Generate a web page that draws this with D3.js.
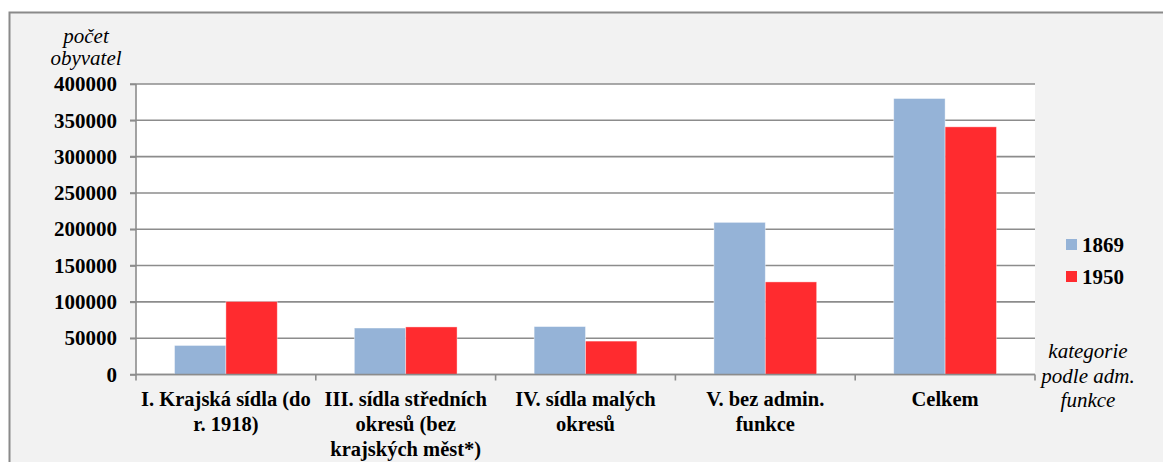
<!DOCTYPE html>
<html>
<head>
<meta charset="utf-8">
<script src="https://cdn.jsdelivr.net/npm/d3@7"></script>
<style>
  body { margin: 0; background: #fff; }
  svg { display: block; }
  svg text { font-family: 'Liberation Serif', 'Times New Roman', Tinos, 'DejaVu Serif', serif; }
</style>
</head>
<body>
<div id="chart"></div>
<script>
var categories = [
  ['I. Krajská sídla (do', 'r. 1918)'],
  ['III. sídla středních', 'okresů (bez', 'krajských měst*)'],
  ['IV. sídla malých', 'okresů'],
  ['V. bez admin.', 'funkce'],
  ['Celkem']
];
var seriesNames = ['1869', '1950'];
var values1869 = [40000, 64000, 66000, 209500, 380000];
var values1950 = [100500, 65500, 46000, 127500, 341000];
var yTicks = [0, 50000, 100000, 150000, 200000, 250000, 300000, 350000, 400000];

(function(){
  'use strict';

  var width = 1163, height = 462;
  var colors = ['#95b3d7', '#ff2b2f'];

  var svg = d3.select('#chart').append('svg')
    .attr('width', width).attr('height', height);

  // chart area background + frame
  svg.append('rect')
    .attr('x', 9.5).attr('y', 12.5)
    .attr('width', width + 20).attr('height', height)
    .attr('fill', '#f2f2f2')
    .attr('stroke', '#8a8a8a').attr('stroke-width', 2);

  var pLeft = 136, pRight = 1035, pTop = 84, pBottom = 374.5;

  var x0 = d3.scaleBand()
    .domain(d3.range(categories.length))
    .range([pLeft, pRight]);

  var x1 = d3.scaleBand()
    .domain(seriesNames)
    .range([0, x0.bandwidth()])
    .paddingInner(0)
    .paddingOuter(0.75);

  var y = d3.scaleLinear().domain([0, 400000]).range([pBottom, pTop]);

  // plot area
  svg.append('rect')
    .attr('x', pLeft).attr('y', pTop)
    .attr('width', pRight - pLeft).attr('height', pBottom - pTop)
    .attr('fill', '#fff');

  // gridlines
  svg.append('g').selectAll('line').data(yTicks).enter().append('line')
    .attr('x1', pLeft - 6).attr('x2', pRight)
    .attr('y1', function(d){ return y(d); })
    .attr('y2', function(d){ return y(d); })
    .attr('stroke', '#8c8c8c').attr('stroke-width', 1.6);

  // bars
  var rows = categories.map(function(c, i){
    return [{s: '1869', v: values1869[i]}, {s: '1950', v: values1950[i]}];
  });

  var groups = svg.append('g').selectAll('g').data(rows).enter().append('g')
    .attr('transform', function(d, i){ return 'translate(' + x0(i) + ',0)'; });

  groups.selectAll('rect').data(function(d){ return d; }).enter().append('rect')
    .attr('x', function(d){ return x1(d.s); })
    .attr('width', x1.bandwidth())
    .attr('y', function(d){ return y(d.v); })
    .attr('height', function(d){ return pBottom - y(d.v); })
    .attr('fill', function(d, i){ return colors[i]; })
    .attr('stroke', '#fff').attr('stroke-opacity', 0.5).attr('stroke-width', 0.8);

  // y axis
  var yAxis = d3.axisLeft(y).tickValues(yTicks).tickSize(6).tickPadding(13)
    .tickFormat(d3.format('d'));
  var ya = svg.append('g').attr('transform', 'translate(' + pLeft + ',0)').call(yAxis);
  ya.attr('font-family', null);
  ya.select('.domain').attr('stroke', '#8c8c8c').attr('stroke-width', 1.6)
    .attr('d', 'M0,' + pTop + 'V' + pBottom);
  ya.selectAll('.tick line').attr('stroke', '#8c8c8c').attr('stroke-width', 1.6);
  ya.selectAll('.tick text')
    .attr('font-size', '21px')
    .attr('font-weight', 'bold').attr('fill', '#000');

  // x axis line and ticks at category boundaries
  svg.append('line')
    .attr('x1', pLeft).attr('x2', pRight)
    .attr('y1', pBottom).attr('y2', pBottom)
    .attr('stroke', '#8c8c8c').attr('stroke-width', 1.6);

  var bounds = d3.range(categories.length + 1).map(function(i){
    return i < categories.length ? x0(i) : pRight;
  });
  svg.append('g').selectAll('line').data(bounds).enter().append('line')
    .attr('x1', function(d){ return d; }).attr('x2', function(d){ return d; })
    .attr('y1', pBottom).attr('y2', pBottom + 6)
    .attr('stroke', '#8c8c8c').attr('stroke-width', 1.6);

  // category labels
  var labels = svg.append('g').selectAll('text').data(categories).enter().append('text')
    .attr('text-anchor', 'middle')
    .attr('font-size', '20.5px')
    .attr('font-weight', 'bold').attr('fill', '#000');
  labels.selectAll('tspan').data(function(d, i){
      return d.map(function(l){ return {l: l, i: i}; });
    }).enter().append('tspan')
    .attr('x', function(d){ return x0(d.i) + x0.bandwidth() / 2; })
    .attr('y', function(d, j){ return 406 + j * 25; })
    .text(function(d){ return d.l; });

  // axis titles
  var yTitle = svg.append('text')
    .attr('text-anchor', 'middle')
    .attr('font-size', '21px')
    .attr('font-style', 'italic').attr('fill', '#000');
  ['počet', 'obyvatel'].forEach(function(t, i){
    yTitle.append('tspan').attr('x', 86).attr('y', 43 + i * 22).text(t);
  });

  var xTitle = svg.append('text')
    .attr('text-anchor', 'middle')
    .attr('font-size', '21px')
    .attr('font-style', 'italic').attr('fill', '#000');
  ['kategorie', 'podle adm.', 'funkce'].forEach(function(t, i){
    xTitle.append('tspan').attr('x', 1088).attr('y', 358 + i * 24.5).text(t);
  });

  // legend
  var legend = svg.append('g').selectAll('g').data(seriesNames).enter().append('g')
    .attr('transform', function(d, i){ return 'translate(1066,' + (239 + i * 32) + ')'; });
  legend.append('rect')
    .attr('width', 11).attr('height', 11)
    .attr('fill', function(d, i){ return colors[i]; });
  legend.append('text')
    .attr('x', 16).attr('y', 12.5)
    .attr('font-size', '21px')
    .attr('font-weight', 'bold').attr('fill', '#000')
    .text(function(d){ return d; });
})();
</script>
</body>
</html>
